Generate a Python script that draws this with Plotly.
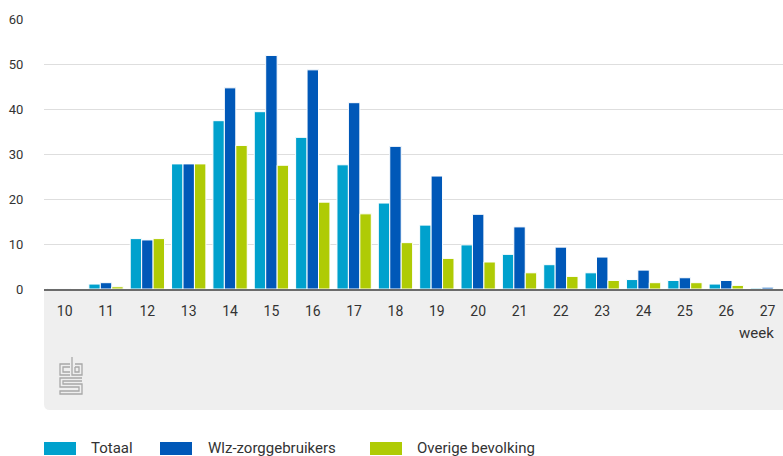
import plotly.graph_objects as go

weeks = list(range(10, 28))
totaal = [0.1, 1.1, 11.2, 27.8, 37.4, 39.4, 33.7, 27.6, 19.1, 14.2, 9.8, 7.7, 5.4, 3.6, 2.1, 1.9, 1.1, 0.2]
wlz = [0.1, 1.4, 10.9, 27.8, 44.7, 51.9, 48.7, 41.4, 31.7, 25.1, 16.6, 13.8, 9.3, 7.1, 4.2, 2.5, 1.9, 0.4]
overige = [0.0, 0.5, 11.2, 27.8, 31.9, 27.5, 19.3, 16.7, 10.3, 6.8, 6.0, 3.6, 2.8, 1.9, 1.4, 1.4, 0.8, 0.1]
series_names = ["Totaal", "Wlz-zorggebruikers", "Overige bevolking"]
series_colors = ["#00a1cd", "#0058b8", "#afcb05"]
yticks = [0, 10, 20, 30, 40, 50, 60]
x_title = "week"

W, H = 783, 456
L, R, T, B = 44, 0, 19, 167
PW, PH = W - L - R, H - T - B


def px(x):
    return (x - L) / PW


def py(y):
    return (H - B - y) / PH


fig = go.Figure()
for name, vals, col in zip(series_names, [totaal, wlz, overige], series_colors):
    fig.add_trace(go.Bar(x=weeks, y=vals, name=name, marker=dict(color=col, line=dict(color="white", width=1)),
                         showlegend=False))

FONT = "Roboto"
shapes = []
# grey box under the axis
r = 6
gx0, gx1, gy0, gy1 = 44, 800, 289, 410
shapes.append(dict(type="path", xref="paper", yref="paper", layer="below",
                   path=(f"M {px(gx0)},{py(gy0)} L {px(gx1)},{py(gy0)} L {px(gx1)},{py(gy1)} "
                         f"L {px(gx0 + r)},{py(gy1)} Q {px(gx0)},{py(gy1)} {px(gx0)},{py(gy1 - r)} Z"),
                   fillcolor="#efefef", line=dict(width=0)))

# cbs logo (approximate line drawing)
logo_paths = [
    [(70, 364), (60, 364), (60, 375), (70, 375)],
    [(70, 367), (63, 367), (63, 372), (70, 372)],
    [(72, 357), (72, 375), (82, 375), (82, 364), (75, 364)],
    [(75, 367), (79, 367), (79, 372), (75, 372), (75, 367)],
    [(82, 378), (60, 378), (60, 387), (79, 387), (79, 391), (60, 391), (60, 394), (82, 394), (82, 384), (63, 384), (63, 381), (82, 381)],
]
for pts in logo_paths:
    d = "M " + " L ".join(f"{px(a)},{py(b)}" for a, b in pts)
    shapes.append(dict(type="path", xref="paper", yref="paper", path=d,
                       line=dict(color="#a8a8a8", width=1.3)))

# custom legend
legend_items = [(44, 89), (160, 206), (370, 415)]
annotations = []
for (sx, tx), name, col in zip(legend_items, series_names, series_colors):
    shapes.append(dict(type="rect", xref="paper", yref="paper", x0=px(sx), x1=px(sx + 32),
                       y0=py(442), y1=py(455), fillcolor=col, line=dict(width=0)))
    annotations.append(dict(xref="paper", yref="paper", x=px(tx), y=py(448), text=name, showarrow=False,
                            xanchor="left", yanchor="middle", font=dict(family=FONT, size=15, color="#333333")))

annotations.append(dict(xref="paper", yref="paper", x=px(776), y=py(333), text=x_title, showarrow=False,
                        xanchor="right", yanchor="middle", font=dict(family=FONT, size=15, color="#333333")))

fig.update_layout(
    width=W, height=H, margin=dict(l=L, r=R, t=T, b=B, pad=0),
    paper_bgcolor="white", plot_bgcolor="white",
    barmode="group", bargap=0.17, bargroupgap=0.0,
    font=dict(family=FONT, size=13, color="#333333"),
    shapes=shapes, annotations=annotations, showlegend=False,
    xaxis=dict(range=[9.5, 9.5 + PW / 41.35], tickvals=weeks, ticktext=[str(w) for w in weeks],
               showgrid=False, zeroline=False, showline=True, linecolor="#6b6b6b", linewidth=2,
               ticks="outside", ticklen=8, tickcolor="rgba(0,0,0,0)", tickfont=dict(size=14, color="#333333")),
    yaxis=dict(range=[0, 60], tickvals=yticks, showgrid=True, gridcolor="#dedede", gridwidth=1,
               zeroline=False, showline=False, ticks="outside", ticklen=17, tickcolor="rgba(0,0,0,0)",
               tickfont=dict(size=13, color="#333333")),
)

fig.write_html("out.html", config={"displayModeBar": False},
               post_script="document.body.style.margin='0';document.body.style.overflow='hidden';")
